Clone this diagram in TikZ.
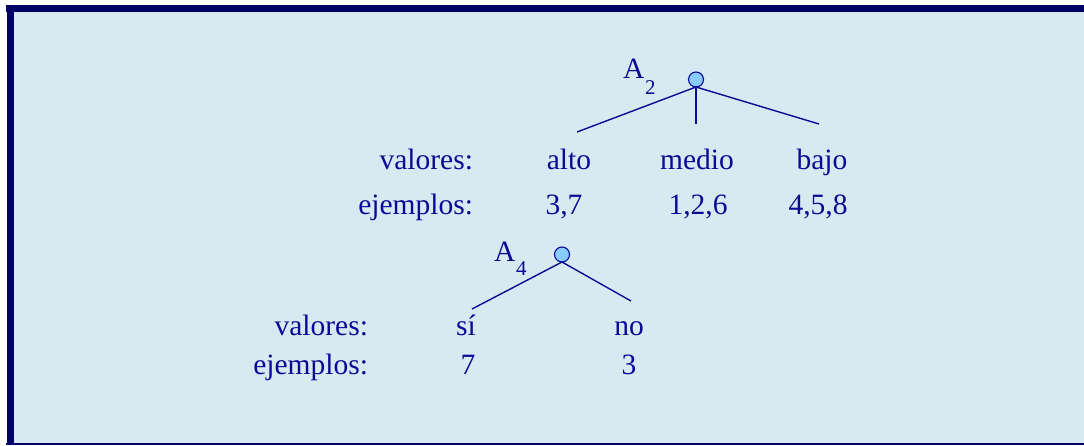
\documentclass[tikz,border=0pt]{standalone}
\usepackage{fontspec}
\setmainfont{Liberation Serif}
\newfontfamily\tnr{Liberation Serif}
\definecolor{framec}{HTML}{000066}
\definecolor{bgc}{HTML}{D8EAF1}
\definecolor{inkc}{HTML}{0A0A96}
\definecolor{nodefill}{HTML}{88CCFF}
\begin{document}
\begin{tikzpicture}[x=1pt,y=-1pt,
  txt/.style={inner sep=0pt,outer sep=0pt,text=inkc,font=\tnr\fontsize{29.5}{35}\selectfont},
  sub/.style={inner sep=0pt,outer sep=0pt,text=inkc,font=\tnr\fontsize{21}{25}\selectfont},
  lbl/.style={txt,anchor=base east},
  val/.style={txt,anchor=base},
  branch/.style={draw=inkc,line width=1.4pt},
  attr/.style={circle,draw=inkc,fill=nodefill,line width=1.1pt,inner sep=0pt,outer sep=0pt,minimum size=15pt}]
\useasboundingbox (0,0) rectangle (1084,446);
% frame
\fill[white] (0,0) rectangle (1084,446);
\fill[bgc] (14,12) rectangle (1084,443.5);
\fill[framec] (6,5) rectangle (1084,12);
\fill[framec] (7,5) rectangle (14,445);
\fill[framec] (6,443.3) rectangle (1084,445.3);
% tree 1
\node[attr] (c1) at (696,79.5) {};
\node[txt,anchor=base west] (a2) at (623,78.5) {A};
\node[sub,anchor=base west] (a2s) at (645,94.5) {2};
\coordinate (e1l) at (577,132);
\coordinate (e1m) at (696,124);
\coordinate (e1r) at (819,124);
\draw[branch] (c1.south) -- (e1l);
\draw[branch] (c1.south) -- (e1m);
\draw[branch] (c1.south) -- (e1r);
\node[lbl] (v1) at (473,170) {valores:};
\node[lbl] (j1) at (473,215) {ejemplos:};
\node[val] (alto) at (569,170) {alto};
\node[val] (medio) at (697,170) {medio};
\node[val] (bajo) at (822,170) {bajo};
\node[val] (ex1) at (564,215) {3,7};
\node[val] (ex2) at (698,215) {1,2,6};
\node[val] (ex3) at (818,215) {4,5,8};
% tree 2
\node[attr] (c2) at (562,254.5) {};
\node[txt,anchor=base west] (a4) at (494,261.5) {A};
\node[sub,anchor=base west] (a4s) at (516,276) {4};
\coordinate (e2l) at (472,309);
\coordinate (e2r) at (631,301);
\draw[branch] (c2.south) -- (e2l);
\draw[branch] (c2.south) -- (e2r);
\node[lbl] (v2) at (368,335) {valores:};
\node[lbl] (j2) at (368,374) {ejemplos:};
\node[val] (si) at (466,335) {sí};
\node[val] (no) at (629,335) {no};
\node[val] (ex4) at (468,374) {7};
\node[val] (ex5) at (629,374) {3};
\end{tikzpicture}
\end{document}
